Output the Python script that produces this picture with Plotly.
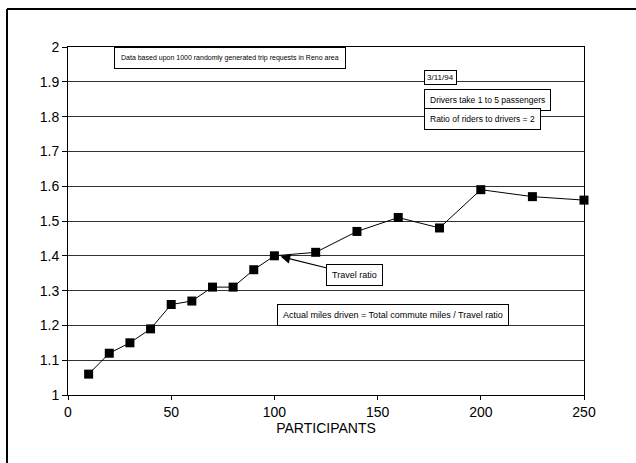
import plotly.graph_objects as go

participants = [10, 20, 30, 40, 50, 60, 70, 80, 90, 100, 120, 140, 160, 180, 200, 225, 250]
travel_ratio = [1.06, 1.12, 1.15, 1.19, 1.26, 1.27, 1.31, 1.31, 1.36, 1.40, 1.41, 1.47, 1.51, 1.48, 1.59, 1.57, 1.56]

x_ticks = [0, 50, 100, 150, 200, 250]
y_ticks = [1, 1.1, 1.2, 1.3, 1.4, 1.5, 1.6, 1.7, 1.8, 1.9, 2]
y_tick_labels = ["1", "1.1", "1.2", "1.3", "1.4", "1.5", "1.6", "1.7", "1.8", "1.9", "2"]

FONT = "Liberation Sans, Arial, Helvetica, sans-serif"

fig = go.Figure()
fig.add_trace(go.Scatter(
    x=participants, y=travel_ratio, mode="lines+markers",
    line=dict(color="black", width=1),
    marker=dict(symbol="square", size=9, color="black"),
    showlegend=False, cliponaxis=False, hoverinfo="skip",
))

L, R, T, B = 68, 52, 47, 68
W, H = 636, 463
pw, ph = W - L - R, H - T - B

def px(xp):
    return (xp - L) / pw

def py(yp):
    return (H - B - yp) / ph

def box(size, pad=5):
    return dict(bordercolor="black", borderwidth=1, bgcolor="white",
                font=dict(family=FONT, size=size, color="black"), borderpad=pad)

annotations = [
    dict(x=78.5, y=1.968, xref="x", yref="y", text="Data based upon 1000 randomly generated trip requests in Reno area",
         showarrow=False, **box(7, 6)),
    dict(x=172.5, y=1.911, xref="x", yref="y", xanchor="left", text="3/11/94",
         showarrow=False, **box(8, 2)),
    dict(x=172.5, y=1.848, xref="x", yref="y", xanchor="left", text="Drivers take 1 to 5 passengers",
         showarrow=False, **box(8.5)),
    dict(x=172.5, y=1.793, xref="x", yref="y", xanchor="left", text="Ratio of riders to drivers = 2",
         showarrow=False, **box(8.5)),
    dict(x=103, y=1.398, xref="x", yref="y", ax=139, ay=1.345, axref="x", ayref="y",
         text="Travel ratio", showarrow=True, arrowhead=2, arrowsize=1.6, arrowwidth=1.2,
         arrowcolor="black", **box(9)),
    dict(x=157.5, y=1.230, xref="x", yref="y", text="Actual miles driven = Total commute miles / Travel ratio",
         showarrow=False, **box(9)),
]

shapes = [
    dict(type="line", xref="paper", yref="paper", x0=px(7), x1=px(7), y0=py(9), y1=py(470),
         line=dict(color="black", width=2)),
    dict(type="line", xref="paper", yref="paper", x0=px(7), x1=px(636), y0=py(9), y1=py(9),
         line=dict(color="black", width=2)),
]

fig.update_layout(
    width=W, height=H,
    margin=dict(l=L, r=R, t=T, b=B),
    paper_bgcolor="white", plot_bgcolor="white",
    font=dict(family=FONT, color="black"),
    annotations=annotations, shapes=shapes,
    xaxis=dict(range=[0, 250], tickvals=x_ticks, ticks="outside", ticklen=4, tickcolor="black",
               showline=True, linecolor="black", linewidth=1, mirror=True,
               showgrid=False, zeroline=False,
               tickfont=dict(size=14, family=FONT),
               title=dict(text="PARTICIPANTS", font=dict(size=14, family=FONT), standoff=1)),
    yaxis=dict(range=[1, 2], tickvals=y_ticks, ticktext=y_tick_labels, ticks="outside", ticklen=5,
               tickcolor="black", showline=True, linecolor="black", linewidth=1, mirror=True,
               showgrid=True, gridcolor="#333333", gridwidth=1, zeroline=False,
               tickfont=dict(size=14, family=FONT)),
)

fig.write_html("out.html", config={"displayModeBar": False},
               post_script="document.body.style.margin='0';document.body.style.overflow='hidden';")
